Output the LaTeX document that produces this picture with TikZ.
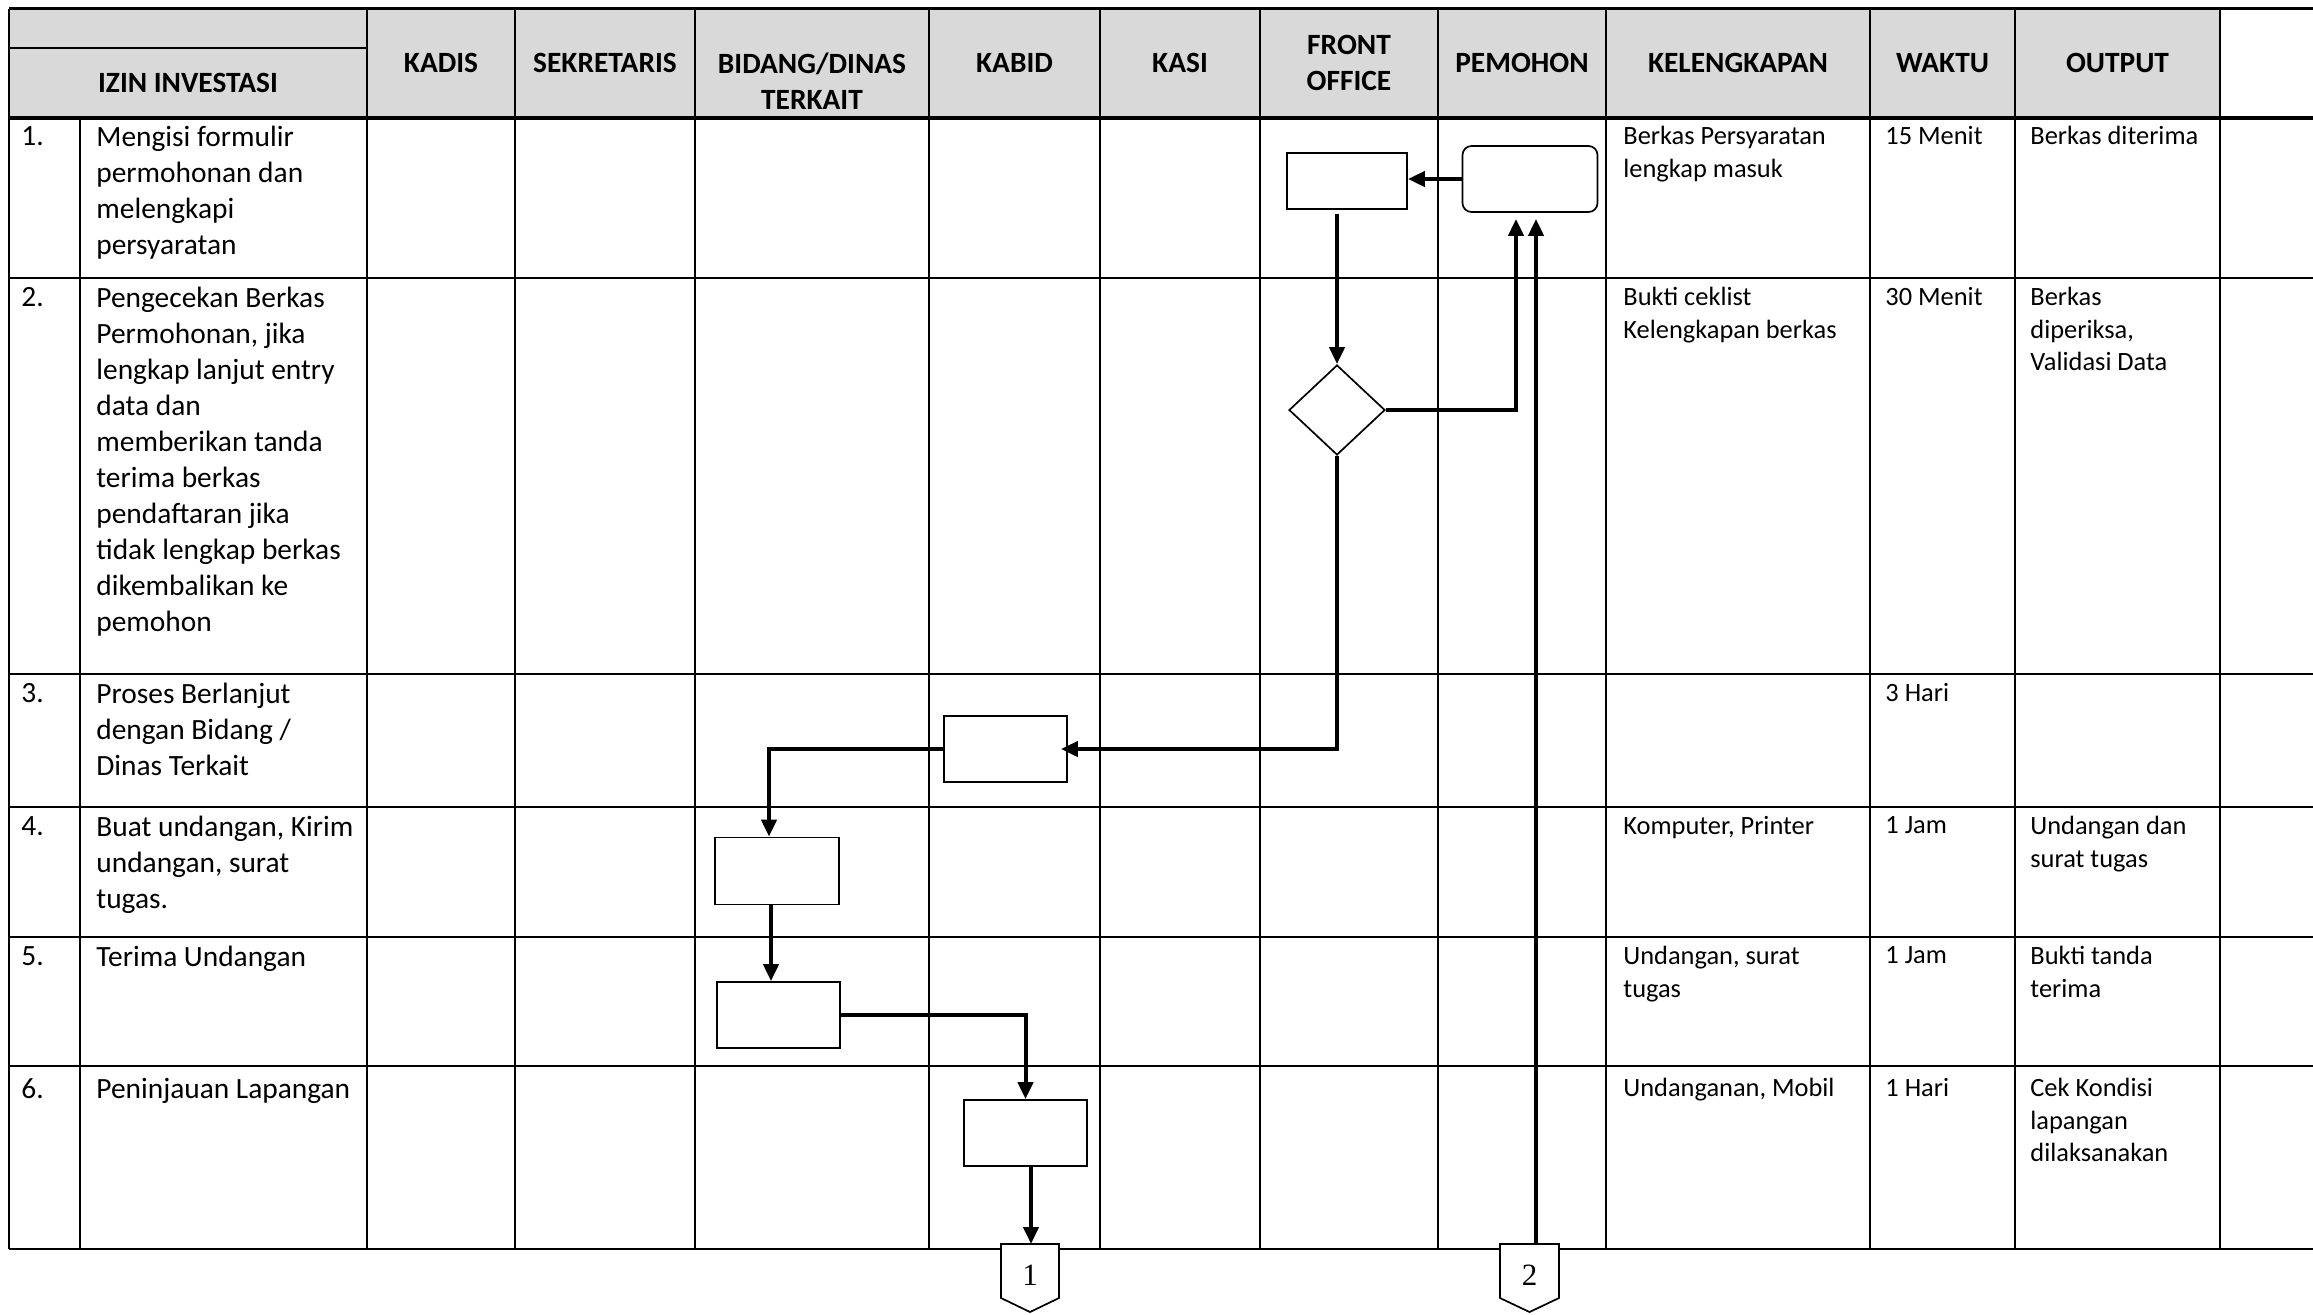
\documentclass[tikz,border=0pt]{standalone}
\usepackage{fontspec}
\setmainfont{Carlito}
\newfontfamily\serifnum{Liberation Serif}
\usetikzlibrary{arrows.meta,shapes.geometric,calc}
\definecolor{hdrgray}{HTML}{D9D9D9}
\begin{document}
\begin{tikzpicture}[x=0.5pt,y=-0.5pt,
  gridline/.style={line width=1.1pt},
  hdrline/.style={line width=1.6pt},
  hdr/.style={font=\fontsize{14.7}{17.7}\selectfont\bfseries, align=center, inner sep=0},
  desc/.style={font=\fontsize{14.7}{18}\selectfont, align=left, anchor=north west, inner sep=0},
  info/.style={font=\fontsize{13.2}{16.2}\selectfont, align=left, anchor=north west, inner sep=0},
  proc/.style={draw, fill=white, line width=0.85pt, minimum width=61.5pt, minimum height=33pt, inner sep=0},
  term/.style={proc, rounded corners=4.5pt, minimum width=67.5pt, minimum height=33pt},
  decide/.style={diamond, draw, fill=white, line width=0.85pt, minimum width=48pt, minimum height=45pt, inner sep=0},
  flow/.style={line width=2pt, -{Triangle[length=8.5pt,width=7.5pt]}},
  offpage/.style={draw, fill=white, line width=0.85pt},
  numtxt/.style={font=\serifnum\fontsize{15.5}{18}\selectfont, inner sep=0}
]
\useasboundingbox (0,0) rectangle (2313,1314);
% header background
\fill[hdrgray] (9,8.5) rectangle (2220,118);
% horizontal lines
\draw[hdrline] (9,8.5) -- (2313,8.5);
\draw[gridline] (9,48) -- (367,48);
\draw[hdrline] (9,118) -- (2313,118);
\foreach \y in {278,674,807,937,1066,1249} \draw[gridline] (9,\y) -- (2313,\y);
% vertical lines
\draw[gridline] (9,8.5) -- (9,1249);
\draw[gridline] (80,118) -- (80,1249);
\foreach \x in {367,515,695,929,1100,1260,1438,1606,1870,2015,2220} \draw[gridline] (\x,8.5) -- (\x,1249);

% header texts
\node[hdr] (hIzin) at (188,83) {IZIN INVESTASI};
\node[hdr] (hKadis) at (441,63) {KADIS};
\node[hdr] (hSek) at (605,63) {SEKRETARIS};
\node[hdr] (hBid) at (812,81) {BIDANG/DINAS\\TERKAIT};
\node[hdr] (hKabid) at (1014.5,63) {KABID};
\node[hdr] (hKasi) at (1180,63) {KASI};
\node[hdr] (hFO) at (1349,63) {FRONT\\OFFICE};
\node[hdr] (hPem) at (1522,63) {PEMOHON};
\node[hdr] (hKel) at (1738,63) {KELENGKAPAN};
\node[hdr] (hWak) at (1942.5,63) {WAKTU};
\node[hdr] (hOut) at (2117.5,63) {OUTPUT};

% row 1
\node[desc] (n1) at (21,126) {1.};
\node[desc] (d1) at (96,126) {Mengisi formulir\\permohonan dan\\melengkapi\\persyaratan};
\node[info] (k1) at (1623,126) {Berkas Persyaratan\\lengkap masuk};
\node[info] (w1) at (1885,126) {15 Menit};
\node[info] (o1) at (2030,126) {Berkas diterima};
% row 2
\node[desc] (n2) at (21,287) {2.};
\node[desc] (d2) at (96,287) {Pengecekan Berkas\\Permohonan, jika\\lengkap lanjut entry\\data dan\\memberikan tanda\\terima berkas\\pendaftaran jika\\tidak lengkap berkas\\dikembalikan ke\\pemohon};
\node[info] (k2) at (1623,287) {Bukti ceklist\\Kelengkapan berkas};
\node[info] (w2) at (1885,287) {30 Menit};
\node[info] (o2) at (2030,287) {Berkas\\diperiksa,\\Validasi Data};
% row 3
\node[desc] (n3) at (21,683) {3.};
\node[desc] (d3) at (96,683) {Proses Berlanjut\\dengan Bidang /\\Dinas Terkait};
\node[info] (w3) at (1885,683) {3 Hari};
% row 4
\node[desc] (n4) at (21,816) {4.};
\node[desc] (d4) at (96,816) {Buat undangan, Kirim\\undangan, surat\\tugas.};
\node[info] (k4) at (1623,816) {Komputer, Printer};
\node[info] (w4) at (1885,816) {1 Jam};
\node[info] (o4) at (2030,816) {Undangan dan\\surat tugas};
% row 5
\node[desc] (n5) at (21,946) {5.};
\node[desc] (d5) at (96,946) {Terima Undangan};
\node[info] (k5) at (1623,946) {Undangan, surat\\tugas};
\node[info] (w5) at (1885,946) {1 Jam};
\node[info] (o5) at (2030,946) {Bukti tanda\\terima};
% row 6
\node[desc] (n6) at (21,1078) {6.};
\node[desc] (d6) at (96,1078) {Peninjauan Lapangan};
\node[info] (k6) at (1623,1078) {Undanganan, Mobil};
\node[info] (w6) at (1885,1078) {1 Hari};
\node[info] (o6) at (2030,1078) {Cek Kondisi\\lapangan\\dilaksanakan};

% flow shapes
\node[proc, minimum width=60pt, minimum height=28pt] (fo1) at (1347,181) {};
\node[term] (pem) at (1530,179) {};
\node[decide] (dia) at (1337,410) {};
\node[proc] (kb1) at (1005.5,749) {};
\node[proc, minimum width=62pt, minimum height=33.5pt] (bd1) at (777,871) {};
\node[proc] (bd2) at (778.5,1015) {};
\node[proc] (kb2) at (1025.5,1133) {};

% off-page connectors
\draw[offpage] (1001,1244) -- (1059,1244) -- (1059,1298) -- (1030,1312) -- (1001,1298) -- cycle;
\node[numtxt] (c1) at (1030,1275) {1};
\draw[offpage] (1500,1244) -- (1559,1244) -- (1559,1298) -- (1529.5,1312) -- (1500,1298) -- cycle;
\node[numtxt] (c2) at (1529.5,1275) {2};
\coordinate (c1top) at (1031,1244);
\coordinate (c2top) at (1536,1244);

% connectors
\draw[flow] (pem.west) -- (pem.west -| fo1.east);
\draw[flow] ([yshift=-2pt]dia.north |- fo1.south) -- (dia.north);
\draw[flow, shorten >=3pt] (dia.east) -| ([xshift=-7pt]pem.south);
\draw[flow, shorten >=3pt] (c2top) -- (c2top |- pem.south);
\draw[flow, shorten >=-3.5pt] (dia.south) |- (kb1.east);
\draw[flow] (kb1.west) -| ([xshift=-4pt]bd1.north);
\draw[flow] ([xshift=-3pt]bd1.south) -- ([xshift=-3pt]bd1.south |- bd2.north);
\draw[flow] (bd2.east) -| (kb2.north);
\draw[flow] (kb2.south -| c1top) -- (c1top);
\end{tikzpicture}
\end{document}
